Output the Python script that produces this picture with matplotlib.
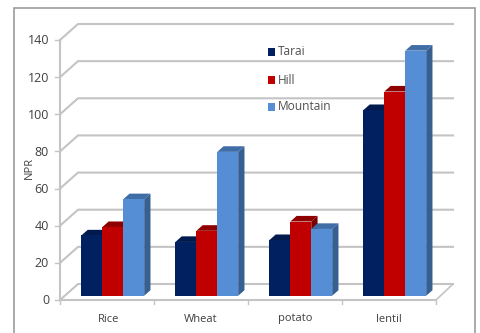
import matplotlib
matplotlib.use("Agg")
import matplotlib.pyplot as plt
from matplotlib.patches import Polygon, Rectangle

categories = ["Rice", "Wheat", "potato", "lentil"]
series_names = ["Tarai", "Hill", "Mountain"]
tarai = [32.5, 29, 30, 100]
hill = [37, 35, 40, 110]
mountain = [52, 77.5, 36, 132]
yticks = [0, 20, 40, 60, 80, 100, 120, 140]

front_colors = ["#002060", "#C00000", "#558ED5"]
top_colors = ["#001A4D", "#8E0000", "#3F6DA6"]
side_colors = ["#001840", "#7A0000", "#376092"]

W, H = 480, 333
# pixels per category and per unit of NPR
PX_X = 94.0
PX_Y = 260.0 / 140.0
X0, Y0 = 60.0, 300.0


def dx(px):
    return px / PX_X


def dy(px):
    return px / PX_Y


plt.rcParams["font.family"] = ["Open Sans", "DejaVu Sans"]

fig = plt.figure(figsize=(W / 100, H / 100), dpi=100)
ax = fig.add_axes([0, 0, 1, 1])
ax.set_xlim(-X0 / PX_X, (W - X0) / PX_X)
ax.set_ylim((Y0 - H) / PX_Y, Y0 / PX_Y)
ax.axis("off")

text_color = "#404040"
grid_color = "#C4C4C4"
n = len(categories)

# outer chart frame
ax.add_patch(Rectangle((dx(13.5 - X0), dy(Y0 - 345)), dx(461), dy(337),
                       fill=False, ec="#9C9C9C", lw=1.2, zorder=1))

# back wall, side wall and floor
depth_x, depth_y = dx(18), dy(16)
for v in yticks:
    ax.plot([0, depth_x, n + dx(17)], [v, v + depth_y, v + depth_y],
            color=grid_color, lw=1.5, zorder=2, solid_joinstyle="miter")
    ax.plot([-dx(5), 0], [v, v], color=grid_color, lw=1.0, zorder=2)
ax.plot([0, 0], [0, 140], color=grid_color, lw=1.5, zorder=2)
ax.plot([0, n], [0, 0], color=grid_color, lw=1.5, zorder=2)
ax.plot([n, n + dx(17)], [0, depth_y], color=grid_color, lw=1.2, zorder=2)
for i in range(n + 1):
    ax.plot([i, i], [0, -dy(4)], color=grid_color, lw=1.0, zorder=2)

# bars stand on the floor, a little behind the front edge
bar_w = 0.2225
bar_start = 0.228
base = dy(4.2)
off_x, off_y = dx(6.3), dy(5.6)
for s, values in enumerate([tarai, hill, mountain]):
    lefts = [i + bar_start + s * bar_w for i in range(n)]
    for left, v in zip(lefts, values):
        right = left + bar_w
        top = base + v
        z = 3 + s + (0.5 if s == 2 else 0)
        ax.add_patch(Polygon([(right, base), (right + off_x, base + off_y),
                              (right + off_x, top + off_y), (right, top)],
                             fc=side_colors[s], ec="none", zorder=z))
        ax.add_patch(Polygon([(left, top), (left + off_x, top + off_y),
                              (right + off_x, top + off_y), (right, top)],
                             fc=top_colors[s], ec="none", zorder=z))
    ax.bar(lefts, values, width=bar_w, bottom=base, align="edge",
           color=front_colors[s], zorder=3 + s + 0.6)

# tick labels
for v in yticks:
    ax.text(-dx(11), v + dy(-1), str(v), ha="right", va="center", fontsize=9,
            color=text_color)
for i, name in enumerate(categories):
    ax.text(i + 0.5 + (0.02 if i == 0 else 0), -dy(19), name, ha="center",
            va="center", fontsize=8, color=text_color)
ax.text(-dx(31), dy(Y0 - 168), "NPR", rotation=90, ha="center", va="center",
        fontsize=8, color=text_color)

# legend
legend_y = [52, 80, 107]
for name, c, py in zip(series_names, front_colors, legend_y):
    ax.add_patch(Rectangle((dx(268 - X0), dy(Y0 - py - 4)), dx(7), dy(8),
                           fc=c, ec="none", zorder=8))
    ax.text(dx(278 - X0), dy(Y0 - py), name, ha="left", va="center",
            fontsize=8.6, color="#505050", zorder=8)

fig.savefig("out.png", dpi=100)
plt.close(fig)
